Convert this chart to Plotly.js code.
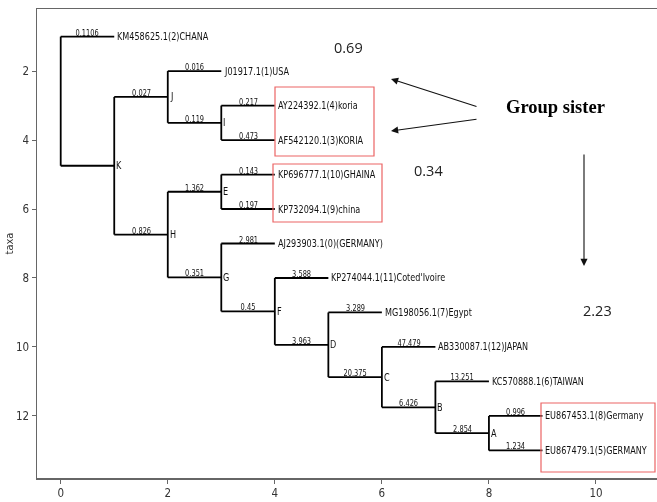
<!DOCTYPE html>
<html>
<head>
<meta charset="utf-8">
<script src="https://cdn.plot.ly/plotly-3.0.1.min.js"></script>
<style>html,body{margin:0;padding:0;background:#fff;}#chart{width:657px;height:502px;}#chart .main-svg{will-change:transform;}</style>
</head>
<body>
<div id="chart"></div>
<script>
// ---- Tree data (pre-order) ----
const nodeNames = ['root','KM458625.1(2)CHANA','K','J','J01917.1(1)USA','I','AY224392.1(4)koria','AF542120.1(3)KORIA','H','E','KP696777.1(10)GHAINA','KP732094.1(9)china','G','AJ293903.1(0)(GERMANY)','F',"KP274044.1(11)Coted'Ivoire",'D','MG198056.1(7)Egypt','C','AB330087.1(12)JAPAN','B','KC570888.1(6)TAIWAN','A','EU867453.1(8)Germany','EU867479.1(5)GERMANY'];
const parents = [null,'root','root','K','J','J','I','I','K','H','E','E','H','G','G','F','F','D','D','C','C','B','B','A','A'];
const branchLabels = ['','0.1106','','0.027','0.016','0.119','0.217','0.473','0.826','1.362','0.143','0.197','0.351','2.981','0.45','3.588','3.963','3.289','20.375','47.479','6.426','13.251','2.854','0.996','1.234'];
const xTicks = [0,2,4,6,8,10];
const yTicks = [2,4,6,8,10,12];
const sideNotes = ['0.69','0.34','2.23'];
const calloutText = 'Group sister';

// ---- layout of tree from structure ----
const N = nodeNames.length;
const idx = {}; nodeNames.forEach((n,i)=>idx[n]=i);
const children = nodeNames.map(()=>[]);
parents.forEach((p,i)=>{ if(p!==null) children[idx[p]].push(i); });
const X = new Array(N), Y = new Array(N);
let leafCount = 0;
function place(i, depth){
  X[i] = depth;
  if(children[i].length===0){ leafCount++; Y[i]=leafCount; return; }
  children[i].forEach(c=>place(c, depth+1));
  const ch = children[i];
  Y[i] = (Y[ch[0]] + Y[ch[ch.length-1]]) / 2;
}
place(0, 0);

const lx = [], ly = [];
for(let i=0;i<N;i++){
  if(parents[i]!==null){
    const p = idx[parents[i]];
    lx.push(X[p], X[i], null); ly.push(Y[i], Y[i], null);
  }
  if(children[i].length>0){
    const ch = children[i];
    lx.push(X[i], X[i], null); ly.push(Y[ch[0]], Y[ch[ch.length-1]], null);
  }
}

const narrow = '"Liberation Sans Narrow", "DejaVu Sans Condensed", "Liberation Sans", sans-serif';
const annotations = [];
const squeezeIdx = new Set();
for(let i=0;i<N;i++){
  const isLeaf = children[i].length===0;
  if(i!==0){
    squeezeIdx.add(annotations.length);
    annotations.push({x:X[i], y:Y[i], xref:'x', yref:'y', text:nodeNames[i], showarrow:false, align:'left',
      xanchor:'left', yanchor:'middle', xshift:isLeaf?1:0, font:{family:narrow, size:11, color:'#111'}});
  }
  if(parents[i]!==null && branchLabels[i]!==''){
    const p = idx[parents[i]];
    squeezeIdx.add(annotations.length);
    annotations.push({x:(X[p]+X[i])/2, y:Y[i], xref:'x', yref:'y', text:branchLabels[i], showarrow:false,
      xanchor:'center', yanchor:'bottom', yshift:-3, font:{family:narrow, size:9, color:'#111'}});
  }
}

// decorations, positioned in pixel space of the picture
const L=37, T=9, W=620, H=469;
const px = v => (v-L)/W, py = v => 1-(v-T)/H;
const noteFont = {family:'"Open Sans", "Liberation Sans", sans-serif', size:14.5, color:'#222'};
const notePos = [[349,47],[428,170],[597,310]];
sideNotes.forEach((s,k)=>annotations.push({x:px(notePos[k][0]), y:py(notePos[k][1]), xref:'paper', yref:'paper',
  text:s, showarrow:false, xanchor:'center', yanchor:'middle', font:noteFont}));
annotations.push({x:px(555), y:py(107), xref:'paper', yref:'paper', text:'<b>'+calloutText+'</b>', showarrow:false,
  xanchor:'center', yanchor:'middle',
  font:{family:'"Liberation Serif", "Times New Roman", serif', size:18.5, color:'#000'}});
const arrows = [[391,79,478,107],[391,131,478,119],[584,266,584,153]];
arrows.forEach(a=>annotations.push({x:px(a[0]), y:py(a[1]), xref:'paper', yref:'paper', text:'', showarrow:true,
  ax:a[2]-a[0], ay:a[3]-a[1], arrowhead:2, arrowsize:1.3, arrowwidth:1.1, arrowcolor:'#111', standoff:0}));

const boxes = [[275,87,374,156],[273,164,382,222],[541,403,655,472]];
const shapes = boxes.map(b=>({type:'rect', xref:'paper', yref:'paper', x0:px(b[0]), x1:px(b[2]), y0:py(b[1]), y1:py(b[3]),
  line:{color:'rgb(236,100,100)', width:1.2}}));

const trace = {x:lx, y:ly, mode:'lines', line:{color:'#000', width:1.8}, hoverinfo:'skip', showlegend:false};

const layout = {
  width:657, height:502,
  margin:{l:L, r:0, t:T, b:502-T-H},
  paper_bgcolor:'rgba(0,0,0,0)', plot_bgcolor:'rgba(0,0,0,0)',
  xaxis:{range:[-0.443, 11.14], tickvals:xTicks, ticks:'outside', ticklen:4, tickcolor:'#666', tickwidth:1,
    showline:true, mirror:true, linecolor:'#666', linewidth:1.5, showgrid:false, zeroline:false,
    tickfont:{family:narrow, size:11.5, color:'#333'}},
  yaxis:{range:[13.8, 0.2], tickvals:yTicks, ticks:'outside', ticklen:4, tickcolor:'#666', tickwidth:1,
    showline:true, mirror:false, linecolor:'#666', linewidth:1.5, showgrid:false, zeroline:false,
    tickfont:{family:narrow, size:11.5, color:'#333'},
    title:{text:'taxa', font:{family:narrow, size:11, color:'#333'}, standoff:0}},
  annotations:annotations, shapes:shapes
};
const S = 0.82; // horizontal squeeze to imitate the narrow font of the original
Plotly.newPlot('chart', [trace], layout, {displayModeBar:false, staticPlot:true}).then(()=>{
  document.querySelectorAll('#chart g.annotation').forEach(g=>{
    const i = +g.getAttribute('data-index');
    if(!squeezeIdx.has(i)) return;
    const t = g.querySelector('text.annotation-text');
    if(!t) return;
    const x0 = parseFloat(t.getAttribute('x')) || 0;
    t.setAttribute('transform', 'translate(' + (x0*(1-S)).toFixed(3) + ',0) scale(' + S + ',1)');
  });
});
</script>
</body>
</html>
